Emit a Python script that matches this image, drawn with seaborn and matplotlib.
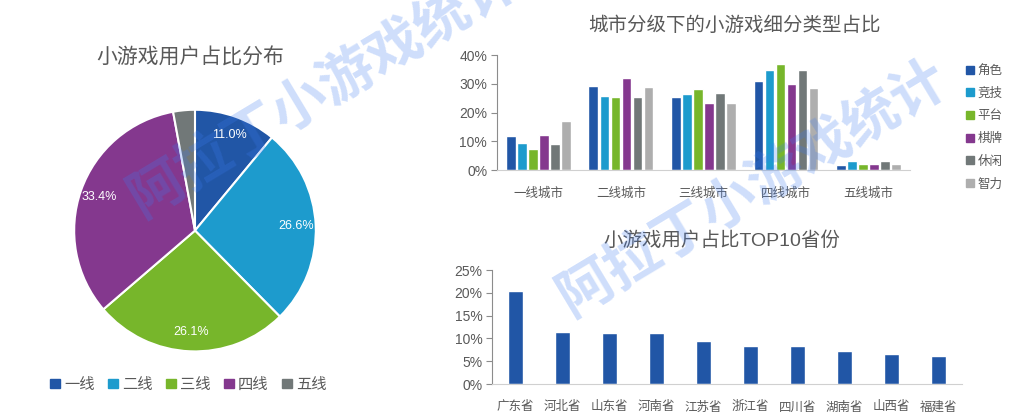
import numpy as np
import pandas as pd
import matplotlib
matplotlib.use("Agg")
import matplotlib.pyplot as plt
import seaborn as sns
from matplotlib.patches import Patch
from matplotlib.ticker import FuncFormatter

# data
tiers = ['一线', '二线', '三线', '四线', '五线']
tier_share = [11.0, 26.6, 26.1, 33.4, 2.9]

cities = ['一线城市', '二线城市', '三线城市', '四线城市', '五线城市']
game_types = ['角色', '竞技', '平台', '棋牌', '休闲', '智力']
type_share = {
    '角色': [11.8, 29.2, 25.4, 31.0, 1.7],
    '竞技': [9.4, 25.7, 26.4, 34.8, 3.1],
    '平台': [7.3, 25.4, 28.2, 36.9, 2.1],
    '棋牌': [12.2, 32.0, 23.3, 29.9, 2.1],
    '休闲': [9.0, 25.4, 26.8, 34.8, 3.1],
    '智力': [17.0, 28.9, 23.3, 28.5, 2.1],
}

provinces = ['广东省', '河北省', '山东省', '河南省', '江苏省',
             '浙江省', '四川省', '湖南省', '山西省', '福建省']
province_share = [20.4, 11.4, 11.2, 11.2, 9.4, 8.3, 8.3, 7.2, 6.6, 6.1]

colors = ['#2156A6', '#1D9BCD', '#77B62B', '#84388E', '#717878', '#AEAEAE']
pie_colors = ['#2156A6', '#1D9BCD', '#77B62B', '#84388E', '#717878']
text_gray = '#595959'

sns.set_style("white")
plt.rcParams['font.family'] = ['Liberation Sans', 'Noto Sans CJK SC', 'DejaVu Sans']

fig = plt.figure(figsize=(10.19, 4.2), dpi=100)

# watermark
for x, y in [(0.317, 0.788), (0.738, 0.552)]:
    fig.text(x, y, '阿拉丁小游戏统计', fontsize=40, color='#3d7bf0', alpha=0.25,
             rotation=31, rotation_mode='anchor', ha='center', va='center',
             family=['Noto Sans CJK SC'], fontweight='bold', zorder=10)

# pie chart
ax1 = fig.add_axes([0.0716, 0.1595, 0.2395, 0.583])
ax1.pie(tier_share, colors=pie_colors, startangle=90, counterclock=False,
        autopct=lambda p: f'{p:.1f}%' if p > 5 else '', pctdistance=0.84,
        wedgeprops=dict(edgecolor='white', linewidth=1.5),
        textprops=dict(color='white', fontsize=9))
ax1.set_xlim(-1.01, 1.01)
ax1.set_ylim(-1.01, 1.01)
ax1.set_aspect('equal')
fig.text(0.187, 0.862, '小游戏用户占比分布', fontsize=15, color=text_gray,
         ha='center', va='center')
handles = [Patch(color=c, label=t) for c, t in zip(pie_colors, tiers)]
fig.legend(handles=handles, loc='center', bbox_to_anchor=(0.185, 0.084), ncol=5,
           frameon=False, fontsize=11, handlelength=0.6, handleheight=0.6,
           handletextpad=0.3, columnspacing=0.9, labelcolor=text_gray)

# grouped bars by city tier
df_type = pd.DataFrame([
    {'city': c, 'type': t, 'share': type_share[t][i] / 100}
    for t in game_types for i, c in enumerate(cities)
])
ax2 = fig.add_axes([0.4877, 0.5952, 0.4053, 0.2738])
sns.barplot(data=df_type, x='city', y='share', hue='type', palette=colors,
            width=0.8, gap=0.12, ax=ax2, legend=False, saturation=1)
ax2.set_ylim(0, 0.4)
ax2.set_yticks([0, 0.1, 0.2, 0.3, 0.4])
ax2.set_xlim(-0.5, 4.5)
ax2.set_title('城市分级下的小游戏细分类型占比', fontsize=14, color=text_gray,
              pad=17, x=0.576)
handles = [Patch(color=c, label=t) for c, t in zip(colors, game_types)]
fig.legend(handles=handles, loc='upper left', bbox_to_anchor=(0.937, 0.872),
           frameon=False, fontsize=9, handlelength=0.6, handleheight=0.6,
           handletextpad=0.3, labelspacing=0.85, labelcolor=text_gray)

# top 10 provinces
df_prov = pd.DataFrame({'province': provinces, 'share': np.array(province_share) / 100})
ax3 = fig.add_axes([0.4828, 0.0857, 0.4612, 0.2714])
sns.barplot(data=df_prov, x='province', y='share', color='#2156A6', width=0.32,
            ax=ax3, saturation=1)
ax3.set_ylim(0, 0.25)
ax3.set_yticks([0, 0.05, 0.10, 0.15, 0.20, 0.25])
ax3.set_xlim(-0.5, 9.5)
ax3.set_title('小游戏用户占比TOP10省份', fontsize=14, color=text_gray, pad=17,
              x=0.49)

for ax in (ax2, ax3):
    ax.set_xlabel('')
    ax.set_ylabel('')
    ax.yaxis.set_major_formatter(FuncFormatter(lambda v, _: f'{v * 100:.0f}%'))
    for s in ('top', 'right'):
        ax.spines[s].set_visible(False)
    ax.spines['left'].set_color('#8c8c8c')
    ax.spines['bottom'].set_color('#d0d0d0')
    ax.tick_params(axis='y', left=True, length=4, color='#8c8c8c',
                   labelsize=10, labelcolor=text_gray, pad=3)
    ax.tick_params(axis='x', bottom=False, labelsize=9, labelcolor=text_gray, pad=9)

fig.savefig('out.png', dpi=100)
